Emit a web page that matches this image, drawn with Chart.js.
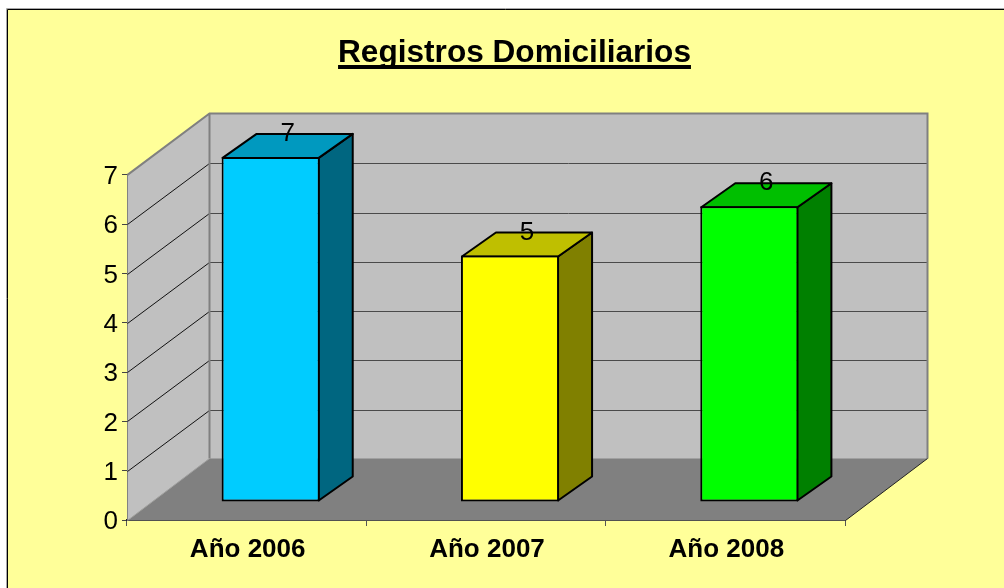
<!DOCTYPE html>
<html><head><meta charset="utf-8">
<style>html,body{margin:0;padding:0;background:#fff}#w{position:absolute;left:0;top:0;width:1004px;height:588px}</style>
<script src="https://cdn.jsdelivr.net/npm/chart.js@4"></script>
</head><body><div id="w"><canvas id="c" width="1004" height="588"></canvas></div>
<script>
const categories = ["Año 2006", "Año 2007", "Año 2008"];
const values = [7, 5, 6];
const titleText = "Registros Domiciliarios";
const frontColors = ["#00CCFF", "#FFFF00", "#00FF00"];
const topColors = ["#0099BF", "#BFBF00", "#00BF00"];
const sideColors = ["#006680", "#808000", "#008000"];
const wallDepth = {x: 82, y: -61};
const barShift = {x: 24, y: -18};
const barDepth = {x: 34, y: -24};

function poly(ctx, pts, fill, stroke, lw) {
  ctx.beginPath();
  pts.forEach((p, i) => i ? ctx.lineTo(p[0], p[1]) : ctx.moveTo(p[0], p[1]));
  ctx.closePath();
  if (fill) { ctx.fillStyle = fill; ctx.fill(); }
  if (stroke) { ctx.strokeStyle = stroke; ctx.lineWidth = lw || 1; ctx.stroke(); }
}
function line(ctx, x1, y1, x2, y2, color, lw) {
  ctx.beginPath(); ctx.moveTo(x1, y1); ctx.lineTo(x2, y2);
  ctx.strokeStyle = color; ctx.lineWidth = lw || 1; ctx.stroke();
}

const scene = {
  id: "scene",
  afterLayout(chart) {
    chart.titleBlock.left += 92;
    chart.titleBlock.right += 92;
  },
  beforeDraw(chart) {
    const c = chart.ctx, W = chart.width, H = chart.height;
    c.save();
    c.fillStyle = "#fff"; c.fillRect(0, 0, W, H);
    c.fillStyle = "#FFFF99"; c.fillRect(7, 9, W - 7, H - 9);
    line(c, 6.5, 8.5, W, 8.5, "#A8A8A8");
    line(c, 6.5, 8.5, 6.5, H, "#A8A8A8");
    line(c, 7.5, 9.5, W, 9.5, "#000");
    line(c, 7.5, 9.5, 7.5, H, "#000");
    c.restore();
  },
  beforeDatasetsDraw(chart) {
    const c = chart.ctx, a = chart.chartArea, y = chart.scales.y;
    const dx = wallDepth.x, dy = wallDepth.y;
    const L = a.left + 0.5, R = a.right + 0.5, T = a.top, B = a.bottom + 0.5;
    c.save();
    // back wall
    poly(c, [[L + dx, T + dy], [R + dx, T + dy], [R + dx, B + dy], [L + dx, B + dy]], "#C0C0C0");
    // side wall
    poly(c, [[L, T], [L + dx, T + dy], [L + dx, B + dy], [L, B]], "#C0C0C0");
    // floor
    poly(c, [[L, B], [L + dx, B + dy - 1], [R + dx, B + dy - 1], [R, B]], "#808080");
    // gridlines
    y.ticks.forEach(t => {
      const py = Math.round(y.getPixelForValue(t.value)) + 0.5;
      if (t.value > 0 && t.value < y.max) {
        line(c, L + dx, py + dy, R + dx, py + dy, "#4A4A4A", 1);
        line(c, L, py, L + dx, py + dy, "#111", 1);
      }
    });
    // wall edges
    c.lineJoin = "miter";
    c.beginPath();
    c.moveTo(L, T); c.lineTo(L + dx, T + dy - 0.5); c.lineTo(R + dx, T + dy - 0.5); c.lineTo(R + dx, B + dy - 1);
    c.moveTo(L + dx, T + dy - 0.5); c.lineTo(L + dx, B + dy - 1);
    c.strokeStyle = "#808080"; c.lineWidth = 2; c.stroke();
    line(c, L, B, L + dx, B + dy - 1, "#A0A0A0", 1);
    line(c, R, B, R + dx, B + dy - 1, "#222", 1);
    // bar top and side faces
    chart.getDatasetMeta(0).data.forEach((el, i) => {
      const hw = el.width / 2 - 1;
      const x0 = el.x - hw + barShift.x, x1 = el.x + hw + barShift.x;
      const y0 = el.y + 1 + barShift.y, y1 = el.base - 1 + barShift.y;
      const ox = barDepth.x, oy = barDepth.y;
      c.lineJoin = "round";
      poly(c, [[x1, y0], [x1 + ox, y0 + oy], [x1 + ox, y1 + oy], [x1, y1]], sideColors[i], "#000", 2);
      poly(c, [[x0, y0], [x0 + ox, y0 + oy], [x1 + ox, y0 + oy], [x1, y0]], topColors[i], "#000", 2);
    });
    c.restore();
  },
  beforeDatasetDraw(chart) {
    chart.ctx.save();
    chart.ctx.translate(barShift.x, barShift.y);
  },
  afterDatasetDraw(chart) {
    chart.ctx.restore();
  },
  afterDraw(chart) {
    const c = chart.ctx, tb = chart.titleBlock;
    c.save();
    // data labels
    c.font = "26px 'Liberation Sans', Arial, sans-serif";
    c.fillStyle = "#000"; c.textAlign = "center"; c.textBaseline = "middle";
    chart.getDatasetMeta(0).data.forEach((el, i) => {
      c.fillText(String(values[i]), el.x + barShift.x + 17, el.y + barShift.y - 23);
    });
    // title underline
    c.font = chart.options.plugins.title.font.weight + " " + chart.options.plugins.title.font.size + "px 'Liberation Sans', Arial, sans-serif";
    const w = c.measureText(titleText).width, cx = (tb.left + tb.right) / 2;
    c.fillStyle = "#000";
    c.fillRect(cx - w / 2, 65, w, 4);
    c.restore();
  }
};

new Chart(document.getElementById("c"), {
  type: "bar",
  plugins: [scene],
  data: {
    labels: categories,
    datasets: [{
      data: values,
      backgroundColor: frontColors,
      borderColor: "#000",
      borderWidth: 2,
      borderSkipped: false,
      barPercentage: 0.41,
      categoryPercentage: 1,
      clip: false
    }]
  },
  options: {
    responsive: false,
    animation: false,
    layout: {padding: {left: 0, right: 159, top: 0, bottom: 0}},
    plugins: {
      legend: {display: false},
      tooltip: {enabled: false},
      title: {
        display: true,
        text: titleText,
        color: "#000",
        font: {family: "'Liberation Sans', Arial, sans-serif", size: 31.6, weight: "bold", lineHeight: 1.2},
        padding: {top: 34, bottom: 103}
      }
    },
    scales: {
      x: {
        afterFit(s) { s.height = 68; },
        grid: {drawOnChartArea: false, drawTicks: true, tickLength: 6, color: "#555"},
        border: {color: "#222", width: 2},
        ticks: {color: "#000", padding: 8, labelOffset: 1, maxRotation: 0, font: {family: "'Liberation Sans', Arial, sans-serif", size: 26, weight: "bold"}}
      },
      y: {
        min: 0, max: 7,
        afterFit(s) { s.width = 127; },
        grid: {drawOnChartArea: false, drawTicks: true, tickLength: 5, color: "#444"},
        border: {color: "#444", width: 1},
        ticks: {stepSize: 1, color: "#000", padding: 4, labelOffset: 2, font: {family: "'Liberation Sans', Arial, sans-serif", size: 26}}
      }
    }
  }
});
</script></body></html>
